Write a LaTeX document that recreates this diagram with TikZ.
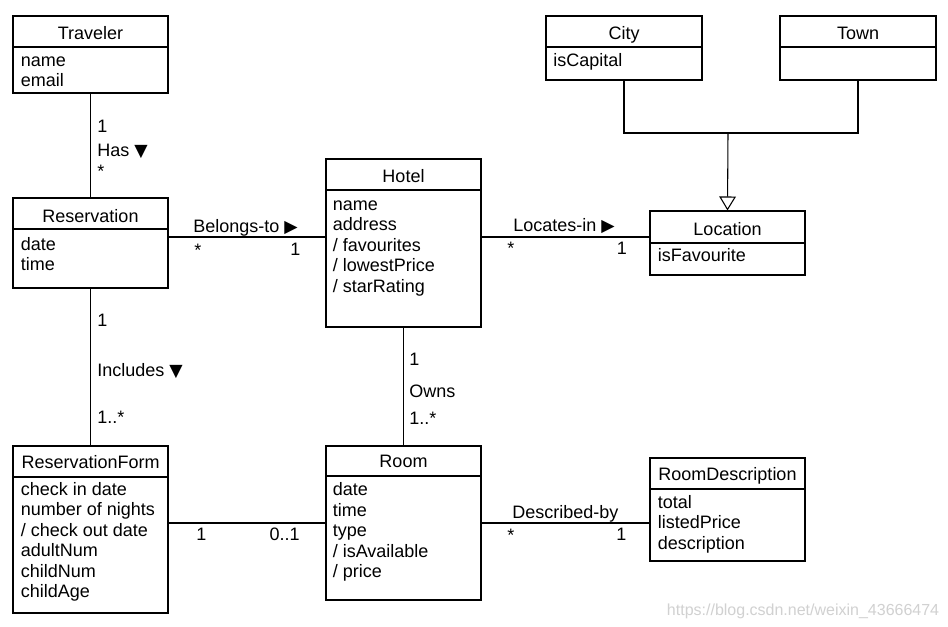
\documentclass[tikz,border=0pt]{standalone}
\usepackage{fontspec}
\setmainfont{Liberation Sans}
\newfontfamily\symfont{DejaVu Sans}
\usetikzlibrary{arrows.meta,fit}
\newcommand\umlattrs[4]{%
  \foreach \t [count=\i from 0] in {#4}
    \node[txt] (#1-\i) at (#2,{#3+20.5*\i}) {\t};}
\newcommand\tri[1]{{\symfont\fontsize{13}{14}\selectfont #1}}
\begin{document}
\begin{tikzpicture}[x=0.75pt,y=-0.75pt,
  box/.style={draw, line width=0.8pt, inner sep=0pt},
  conn/.style={line width=0.8pt},
  txt/.style={anchor=base west, inner sep=0pt, font=\fontsize{13.5}{16}\selectfont},
  ttl/.style={anchor=base, inner sep=0pt, font=\fontsize{13.5}{16}\selectfont},
  wm/.style={anchor=base west, inner sep=0pt, text=black!18, font=\fontsize{12}{14}\selectfont}]
\useasboundingbox[fill=white] (0,0) rectangle (948,626);

% ---------- classes ----------
\node[box, fit={(13,16)(168,93)}] (traveler) {};
\draw[conn] (traveler.west |- 0,47) -- (traveler.east |- 0,47);
\node[ttl] (travelerT) at (90.5,39.8) {Traveler};
\umlattrs{travelerA}{20.5}{66.3}{name,email}

\node[box, fit={(13,198)(168,288)}] (reservation) {};
\draw[conn] (reservation.west |- 0,229) -- (reservation.east |- 0,229);
\node[ttl] (reservationT) at (90.5,222) {Reservation};
\umlattrs{reservationA}{20.5}{250}{date,time}

\node[box, fit={(326,159)(481,327)}] (hotel) {};
\draw[conn] (hotel.west |- 0,190) -- (hotel.east |- 0,190);
\node[ttl] (hotelT) at (403.5,182.5) {Hotel};
\umlattrs{hotelA}{332.5}{210}{name,address,/ favourites,/ lowestPrice,/ starRating}

\node[box, fit={(546,16)(702,80)}] (city) {};
\draw[conn] (city.west |- 0,47) -- (city.east |- 0,47);
\node[ttl] (cityT) at (624,39.8) {City};
\umlattrs{cityA}{553}{66.3}{isCapital}

\node[box, fit={(780,16)(936,80)}] (town) {};
\draw[conn] (town.west |- 0,47) -- (town.east |- 0,47);
\node[ttl] (townT) at (858,39.8) {Town};

\node[box, fit={(650,211)(805,275)}] (location) {};
\draw[conn] (location.west |- 0,243) -- (location.east |- 0,243);
\node[ttl] (locationT) at (727.5,235.2) {Location};
\umlattrs{locationA}{657.5}{261.7}{isFavourite}

\node[box, fit={(13,446)(168,613)}] (rform) {};
\draw[conn] (rform.west |- 0,477) -- (rform.east |- 0,477);
\node[ttl] (rformT) at (90.7,468.3) {ReservationForm};
\umlattrs{rformA}{20.5}{495}{check in date,number of nights,/ check out date,adultNum,childNum,childAge}

\node[box, fit={(326,446)(481,600)}] (room) {};
\draw[conn] (room.west |- 0,476) -- (room.east |- 0,476);
\node[ttl] (roomT) at (403.5,467.7) {Room};
\umlattrs{roomA}{332.5}{495.7}{date,time,type,/ isAvailable,/ price}

\node[box, fit={(650,458)(805,561)}] (rdesc) {};
\draw[conn] (rdesc.west |- 0,489) -- (rdesc.east |- 0,489);
\node[ttl] (rdescT) at (727.5,480.7) {RoomDescription};
\umlattrs{rdescA}{657.5}{508.3}{total,listedPrice,description}

% ---------- connectors ----------
\draw[conn] (traveler.south) -- (reservation.north);
\draw[conn] (reservation.east |- 0,237) -- (hotel.west |- 0,237);
\draw[conn] (hotel.east |- 0,237) -- (location.west |- 0,237);
\draw[conn] (reservation.south) -- (rform.north);
\draw[conn] (hotel.south) -- (room.north);
\draw[conn] (rform.east |- 0,523) -- (room.west |- 0,523);
\draw[conn] (room.east |- 0,523) -- (rdesc.west |- 0,523);

\coordinate (gj) at (728,133);
\draw[conn] (city.south) |- (gj) -| (town.south);
\draw[conn, -{Triangle[open, length=10.5pt, width=12.5pt]}] (gj) -- (location.north);

% ---------- labels ----------
\node[txt] (hasM1) at (97,132) {1};
\node[txt] (hasL) at (97,156) {Has \tri{▼}};
\node[txt] (hasM2) at (97,177) {*};

\node[txt] (belL) at (193,232) {Belongs-to \tri{▶}};
\node[txt] (belM1) at (194,256) {*};
\node[txt] (belM2) at (290,255) {1};

\node[txt] (locL) at (513,231.7) {Locates-in \tri{▶}};
\node[txt] (locM1) at (507,254) {*};
\node[txt] (locM2) at (616.5,254.3) {1};

\node[txt] (incM1) at (97,326.7) {1};
\node[txt] (incL) at (97,376.7) {Includes \tri{▼}};
\node[txt] (incM2) at (97,423.3) {1..*};

\node[txt] (ownM1) at (409,365.7) {1};
\node[txt] (ownL) at (409,397.3) {Owns};
\node[txt] (ownM2) at (409,424.3) {1..*};

\node[txt] (rrM1) at (196,540.7) {1};
\node[txt] (rrM2) at (269.3,540.7) {0..1};

\node[txt] (descL) at (512,518.3) {Described-by};
\node[txt] (descM1) at (507,541) {*};
\node[txt] (descM2) at (616,540.7) {1};

\node[wm] (watermark) at (666.7,615) {https://blog.csdn.net/weixin\_43666474};
\end{tikzpicture}
\end{document}
